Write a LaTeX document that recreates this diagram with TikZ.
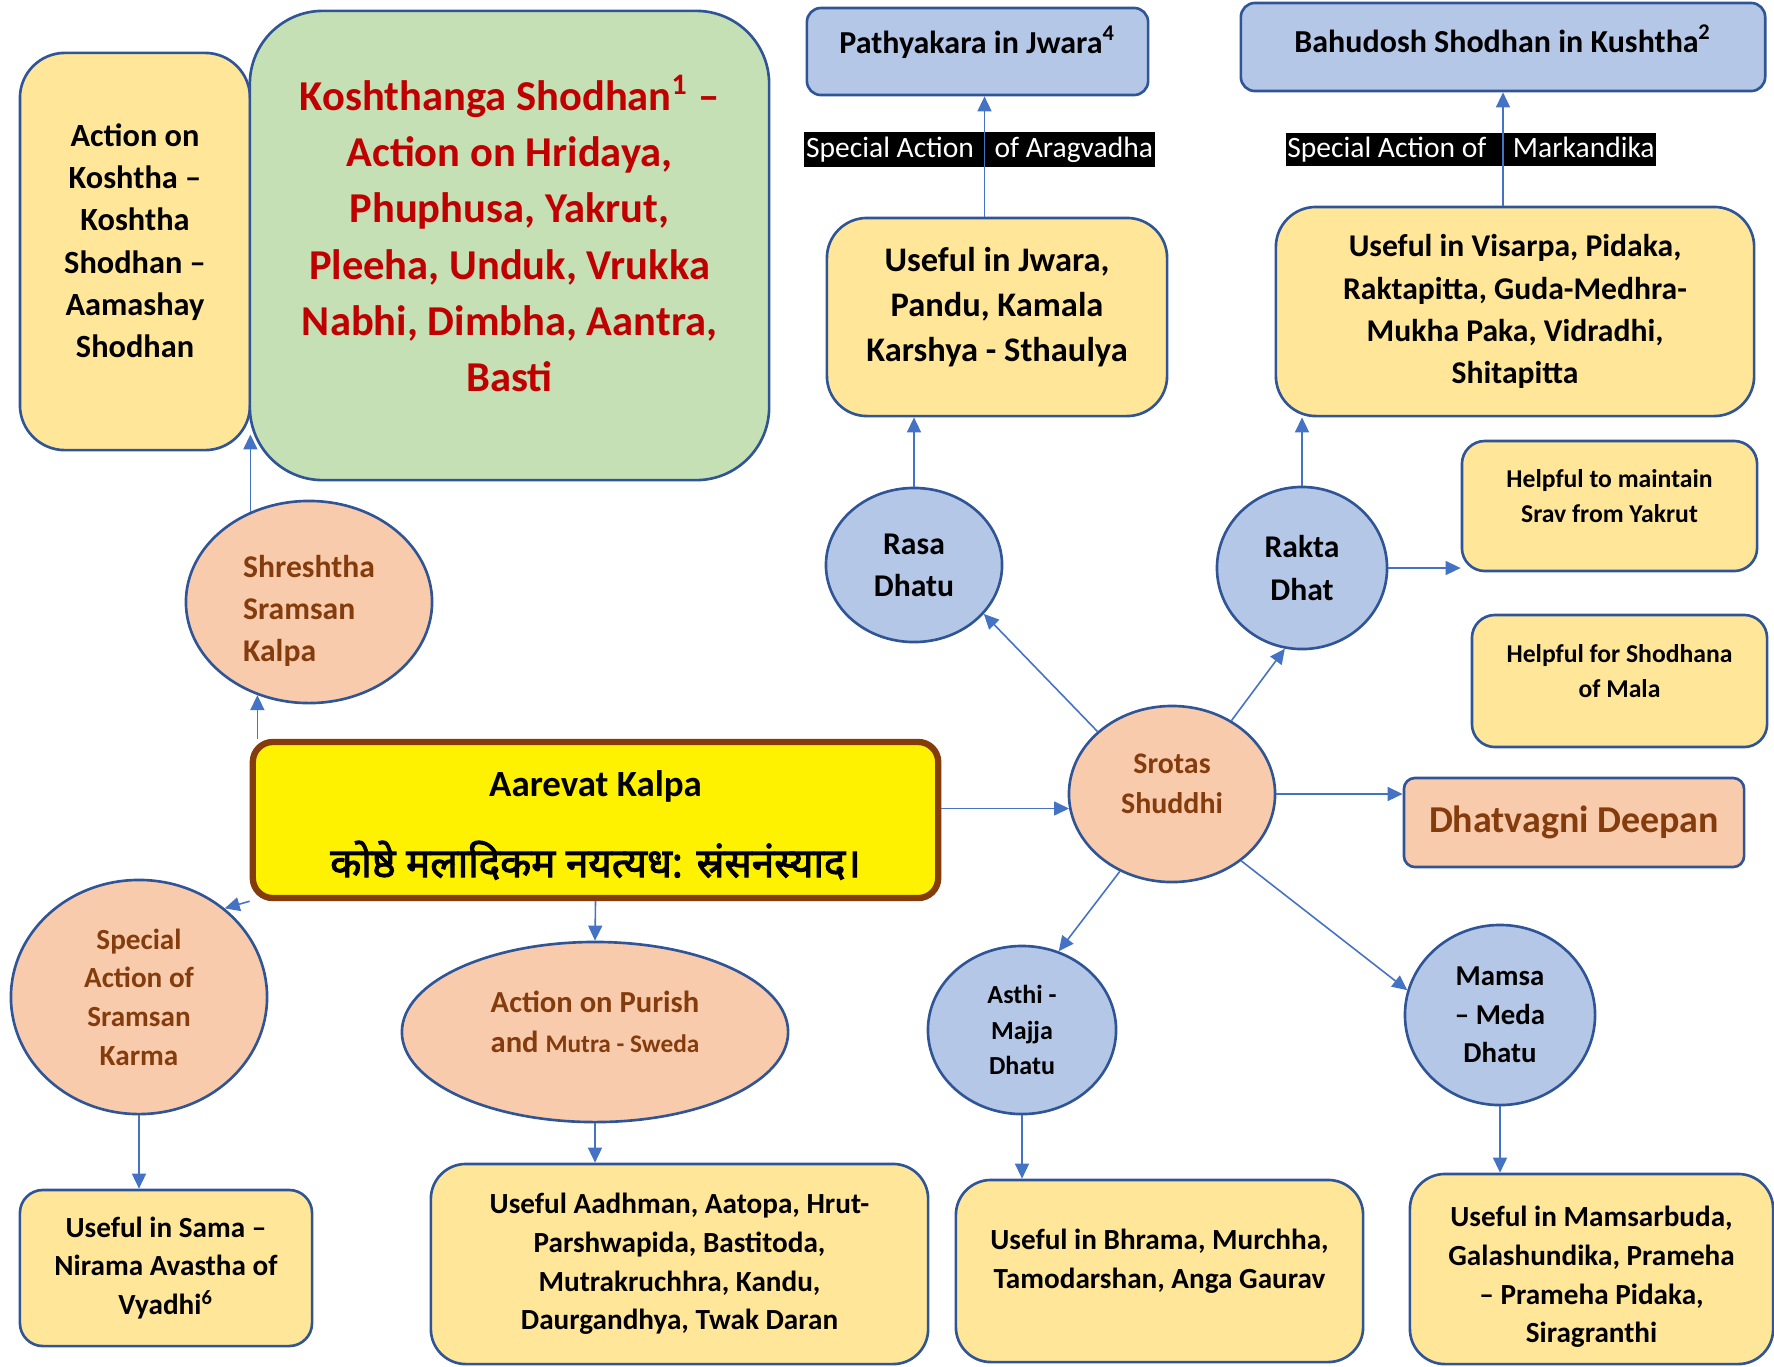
\documentclass[tikz,border=0pt]{standalone}
\usepackage{fontspec}
\setmainfont{Carlito}
\newfontfamily\devfont[Script=Devanagari,FakeBold=2.5]{Noto Sans}
\usetikzlibrary{positioning,arrows.meta,shapes.geometric,calc}

\definecolor{cardyel}{HTML}{FFE699}
\definecolor{cardgrn}{HTML}{C5E0B4}
\definecolor{cardblu}{HTML}{B4C7E7}
\definecolor{peach}{HTML}{F8CBAD}
\definecolor{edgeblu}{HTML}{2F5597}
\definecolor{arrblu}{HTML}{4472C4}
\definecolor{brn}{HTML}{843C0C}
\definecolor{redtxt}{HTML}{C00000}
\newcommand\fsz[2]{\fontsize{#1}{#2}\selectfont}

\begin{document}
\begin{tikzpicture}[x=0.01cm, y=-0.01cm,
  card/.style={draw=edgeblu, line width=0.75pt, rounded corners=0.35cm,
               align=center, inner sep=2pt, font=\bfseries\fsz{8.3}{11}},
  ycard/.style={card, fill=cardyel},
  bcard/.style={card, fill=cardblu, rounded corners=0.14cm, font=\bfseries\fsz{9.1}{12}},
  bubble/.style={ellipse, draw=edgeblu, line width=0.75pt, inner sep=0pt,
                 align=center, font=\bfseries\fsz{9}{12}},
  pbubble/.style={bubble, fill=peach, text=brn},
  bbubble/.style={bubble, fill=cardblu},
  tag/.style={fill=black, text=white, inner xsep=0.5pt, inner ysep=1.2pt,
              font=\fsz{8.4}{10}},
  arr/.style={draw=arrblu, line width=0.45pt, -{Triangle[length=1.5mm,width=1.4mm]}},
]
\useasboundingbox (0,0) rectangle (1774,1366);

% left column, top
\node[ycard, minimum width=2.3cm, minimum height=3.97cm, rounded corners=0.45cm,
      font=\bfseries\fsz{9.2}{12}] (koshtha) at (135,251.5)
  {Action on\\ Koshtha --\\ Koshtha\\ Shodhan --\\ Aamashay\\ Shodhan\\[-5.8pt]};
\node[card, fill=cardgrn, minimum width=5.19cm, minimum height=4.69cm,
      rounded corners=0.73cm, text=redtxt, font=\bfseries\fsz{12.1}{16}] (kshodhan) at (509.5,245.5)
  {Koshthanga Shodhan\textsuperscript{1} --\\ Action on Hridaya,\\ Phuphusa, Yakrut,\\
   Pleeha, Unduk, Vrukka\\ Nabhi, Dimbha, Aantra,\\ Basti\\[-9.2pt]};

% top right
\node[bcard, minimum width=3.41cm, minimum height=0.87cm] (pathya) at (977.5,51.5)
  {Pathyakara in Jwara\textsuperscript{4}\\[-5.4pt]};
\node[bcard, minimum width=5.24cm, minimum height=0.88cm] (bahu) at (1503,47)
  {Bahudosh Shodhan in Kushtha\textsuperscript{2}\\[-7.2pt]};
\node[tag] (aragv) at (979.5,149.5) {Special Action\hspace{0.7em}of Aragvadha};
\node[tag] (markand) at (1471,149.5) {Special Action of\hspace{0.9em}Markandika};

\node[ycard, minimum width=3.4cm, minimum height=1.98cm, rounded corners=0.4cm,
      font=\bfseries\fsz{9.8}{12.8}] (jwara) at (997,317)
  {Useful in Jwara,\\ Pandu, Kamala\\ Karshya - Sthaulya\\[-5.5pt]};
\node[ycard, minimum width=4.78cm, minimum height=2.09cm, rounded corners=0.4cm,
      font=\bfseries\fsz{9}{12}] (visarpa) at (1515,311.5)
  {Useful in Visarpa, Pidaka,\\ Raktapitta, Guda-Medhra-\\ Mukha Paka, Vidradhi,\\ Shitapitta};

% dhatu ring
\node[bbubble, minimum width=1.76cm, minimum height=1.54cm] (rasa) at (914,565) {Rasa\\ Dhatu};
\node[bbubble, minimum width=1.7cm, minimum height=1.62cm] (rakta) at (1302,568) {Rakta\\ Dhat};
\node[ycard, minimum width=2.95cm, minimum height=1.3cm, rounded corners=0.23cm,
      font=\bfseries\fsz{7.3}{10}] (helpa) at (1609.5,506)
  {Helpful to maintain\\ Srav from Yakrut\\[-4.2pt]};
\node[ycard, minimum width=2.95cm, minimum height=1.32cm, rounded corners=0.23cm,
      font=\bfseries\fsz{7.3}{10}] (helpb) at (1619.5,681)
  {Helpful for Shodhana\\ of Mala\\[-4.2pt]};
\node[pbubble, minimum width=2.06cm, minimum height=1.76cm, font=\bfseries\fsz{8.5}{11.4}]
  (srotas) at (1172,794) {Srotas\\ Shuddhi\\[-5.6pt]};
\node[card, fill=peach, text=brn, minimum width=3.4cm, minimum height=0.89cm,
      rounded corners=0.11cm, font=\bfseries\fsz{10.8}{13}] (dhatv) at (1574,822.5)
  {Dhatvagni Deepan};
\node[bbubble, minimum width=1.88cm, minimum height=1.68cm, font=\bfseries\fsz{7.4}{10}]
  (asthi) at (1022,1030) {Asthi -\\ Majja\\ Dhatu};
\node[bbubble, minimum width=1.9cm, minimum height=1.8cm, font=\bfseries\fsz{8.2}{11}]
  (mamsa) at (1500,1015) {Mamsa\\ -- Meda\\ Dhatu};

% centre
\node[draw=brn, line width=1.8pt, fill=yellow, rounded corners=0.2cm,
      minimum width=6.85cm, minimum height=1.56cm, align=center,
      font=\bfseries\fsz{10.5}{13}] (aarevat) at (595.5,820)
  {\rule{0pt}{10.2pt}Aarevat Kalpa\\[10pt] {\devfont\fsz{11.5}{13}कोष्ठे मलादिकम नयत्यध: स्रंसनंस्याद।}};
\node[pbubble, minimum width=2.46cm, minimum height=2.02cm, align=left]
  (shresh) at (309,602) {\rule{0pt}{11.3pt}Shreshtha\\ Sramsan\\ Kalpa};
\node[pbubble, minimum width=2.56cm, minimum height=2.34cm, font=\bfseries\fsz{8.3}{11}]
  (sramsan) at (139,997) {Special\\ Action of\\ Sramsan\\ Karma};
\node[pbubble, minimum width=3.86cm, minimum height=1.8cm, font=\bfseries\fsz{8.7}{11.6}]
  (purish) at (595,1032) {Action on Purish\\ and {\fsz{7.2}{9}Mutra - Sweda}\\[-5.8pt]};

% bottom row
\node[ycard, minimum width=2.92cm, minimum height=1.56cm, rounded corners=0.23cm]
  (sama) at (166,1268) {Useful in Sama --\\ Nirama Avastha of\\ Vyadhi\textsuperscript{6}};
\node[ycard, minimum width=4.97cm, minimum height=2cm]
  (aadhman) at (679.5,1264)
  {Useful Aadhman, Aatopa, Hrut-\\ Parshwapida, Bastitoda,\\ Mutrakruchhra, Kandu,\\ Daurgandhya, Twak Daran};
\node[ycard, minimum width=4.07cm, minimum height=1.82cm]
  (bhrama) at (1159.5,1271)
  {Useful in Bhrama, Murchha,\\ Tamodarshan, Anga Gaurav\\[-3.9pt]};
\node[ycard, minimum width=3.63cm, minimum height=1.9cm]
  (mamsarb) at (1591.5,1269)
  {\rule{0pt}{10.3pt}Useful in Mamsarbuda,\\ Galashundika, Prameha\\ -- Prameha Pidaka,\\ Siragranthi};

% connectors
\draw[arr] (shresh.241 |- aarevat.north) -- (shresh.241);
\draw[arr] (shresh.123) -- ($(shresh.123 |- koshtha.south)+(0,-17)$);
\draw[arr] (aarevat.south west) -- (sramsan.46);
\draw[arr] (aarevat.south) -- (purish.north);
\draw[arr] (srotas.188 -| aarevat.east) -- (srotas.188);
\draw[arr] (sramsan.south) -- (sramsan.south |- sama.north);
\draw[arr] (purish.south) -- (purish.south |- aadhman.north);
\draw[arr] (srotas.140) -- (rasa.-35);
\draw[arr] (srotas.51) -- (rakta.258);
\draw[arr] (srotas.east) -- (srotas.east -| dhatv.west);
\draw[arr] (srotas.236) -- (asthi.65);
\draw[arr] (srotas.-44) -- (mamsa.165);
\draw[arr] (rasa.north) -- (rasa.north |- jwara.south);
\draw[arr] (rakta.north) -- (rakta.north |- visarpa.south);
\draw[arr] (rakta.east) -- (rakta.east -| helpa.west);
\draw[arr] ($(jwara.north -| pathya.south)+(7,0)$) -- ($(pathya.south)+(7,0)$);
\draw[arr] (visarpa.north -| bahu.south) -- (bahu.south);
\draw[arr] (asthi.south) -- (asthi.south |- bhrama.north);
\draw[arr] (mamsa.south) -- (mamsa.south |- mamsarb.north);
\end{tikzpicture}
\end{document}
